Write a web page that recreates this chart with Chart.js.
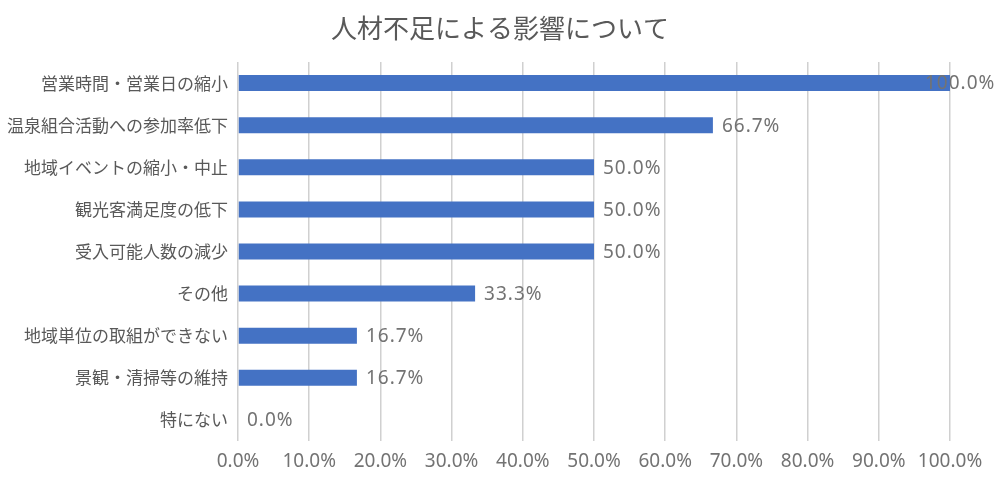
<!DOCTYPE html>
<html>
<head>
<meta charset="utf-8">
<script src="https://cdn.jsdelivr.net/npm/chart.js@4"></script>
<style>
  html, body { margin: 0; padding: 0; background: #fff; }
  #wrap { width: 1000px; height: 477px; }
</style>
</head>
<body>
<div id="wrap"><canvas id="impactChart"></canvas></div>
<script>
// 人材不足による影響 - values in percent
const chartTitle = '人材不足による影響について';
const categories = [
    '営業時間・営業日の縮小',
    '温泉組合活動への参加率低下',
    '地域イベントの縮小・中止',
    '観光客満足度の低下',
    '受入可能人数の減少',
    'その他',
    '地域単位の取組ができない',
    '景観・清掃等の維持',
    '特にない'
];
const shares = [100.0, 66.7, 50.0, 50.0, 50.0, 33.3, 16.7, 16.7, 0.0];
const tickValues = [0, 10, 20, 30, 40, 50, 60, 70, 80, 90, 100];

const fontFamily = '"Noto Sans CJK JP", "Noto Sans", sans-serif';
const textColor = '#595959';
const numColor = '#737373';

// title centred on the whole picture, not on the plot box
const pageTitle = {
    id: 'pageTitle',
    afterDraw(chart) {
        const ctx = chart.ctx;
        ctx.save();
        ctx.font = '26px ' + fontFamily;
        ctx.fillStyle = textColor;
        ctx.textAlign = 'center';
        ctx.textBaseline = 'middle';
        ctx.fillText(chartTitle, chart.width / 2, 28);
        ctx.restore();
    }
};

// draw the value next to each bar (the 100% one overlaps the bar end like the original)
const valueLabels = {
    id: 'valueLabels',
    afterDatasetsDraw(chart) {
        const ctx = chart.ctx;
        const meta = chart.getDatasetMeta(0);
        ctx.save();
        ctx.font = '19px "Noto Sans", sans-serif';
        ctx.letterSpacing = '1px';
        ctx.fillStyle = numColor;
        ctx.textBaseline = 'middle';
        ctx.textAlign = 'left';
        meta.data.forEach((bar, i) => {
            const shift = shares[i] >= 100 ? -25 : 9;
            ctx.fillText(shares[i].toFixed(1) + '%', bar.x + shift, bar.y + 1);
        });
        ctx.restore();
    }
};

const ctx = document.getElementById('impactChart').getContext('2d');
const impactChart = new Chart(ctx, {
    type: 'bar',
    data: {
        labels: categories,
        datasets: [{
            data: shares,
            backgroundColor: '#4472c4',
            borderWidth: 0,
            barPercentage: 0.76,
            categoryPercentage: 0.5
        }]
    },
    options: {
        indexAxis: 'y',
        responsive: true,
        maintainAspectRatio: false,
        animation: false,
        layout: { padding: { left: 7, right: 50, top: 62, bottom: 0 } },
        plugins: {
            legend: { display: false },
            tooltip: { enabled: false },
            title: { display: false }
        },
        scales: {
            x: {
                min: 0,
                max: 100,
                afterBuildTicks(axis) {
                    axis.ticks = tickValues.map(v => ({ value: v }));
                },
                afterFit(axis) {
                    axis.height = 36;
                },
                grid: { color: '#d0d0d0', lineWidth: 1.5, drawTicks: false },
                border: { display: false },
                ticks: {
                    color: numColor,
                    font: { family: '"Noto Sans", sans-serif', size: 19 },
                    padding: 9,
                    maxRotation: 0,
                    minRotation: 0,
                    autoSkip: false,
                    callback: v => v.toFixed(1) + '%'
                }
            },
            y: {
                afterFit(axis) {
                    axis.width = 231;
                },
                grid: { display: false, drawTicks: false },
                border: { display: false },
                ticks: {
                    color: textColor,
                    font: { family: fontFamily, size: 17 },
                    padding: 10
                }
            }
        }
    },
    plugins: [valueLabels, pageTitle]
});
</script>
</body>
</html>
